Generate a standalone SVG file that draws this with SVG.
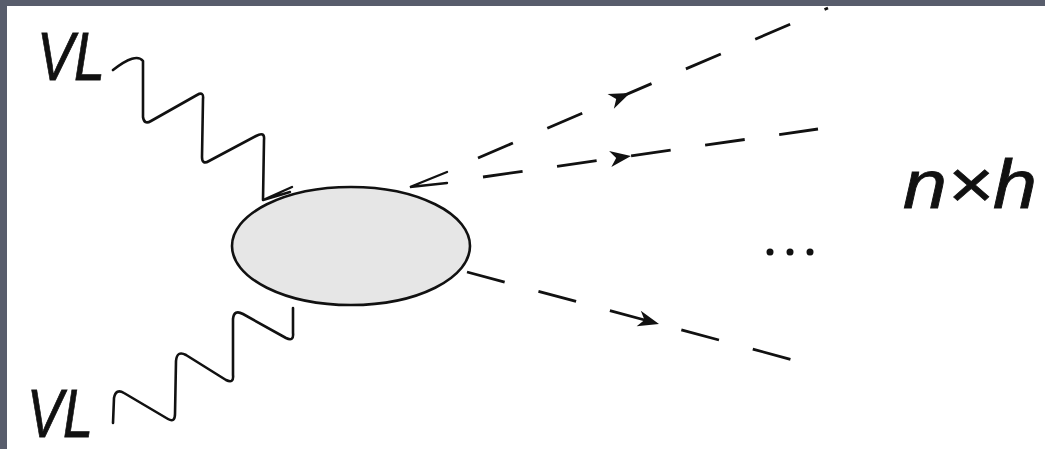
<svg xmlns="http://www.w3.org/2000/svg" xmlns:xlink="http://www.w3.org/1999/xlink" width="1045" height="449" viewBox="0 0 1045 449">
<style>
.lbl{font-family:"Liberation Sans",Arial,sans-serif;font-style:italic;fill:#111;stroke:#111;stroke-width:0.8;font-size:68px}
.wave{fill:none;stroke:#111;stroke-width:2.6;stroke-linejoin:round;stroke-linecap:round}
.dash{fill:none;stroke:#111;stroke-width:2.8;stroke-linecap:butt}
.tip{fill:none;stroke:#111;stroke-width:2.4;stroke-linecap:round}
.ah{fill:#111}
</style>
<defs>
<path id="ah" class="ah" d="M0,0 L-21,-8 L-15,0 L-21,8 Z"/>
</defs>
<rect x="0" y="0" width="1045" height="449" fill="#ffffff"/>
<g id="frame">
<rect x="0" y="0" width="1045" height="6" fill="#585d6c"/>
<rect x="0" y="0" width="7" height="449" fill="#585d6c"/>
</g>
<g id="connectors">
<path id="wave-top" class="wave" d="M113,70 Q136,52 143,61 L143,117 Q144,125 151,121 L197,95 Q204,91 203,99 L202,157 Q202,165 209,161 L256,136 Q265,131 264,140 L263,200"/>
<path id="wave-bottom" class="wave" d="M113,423 L114,398 Q116,388 124,393 L168,419 Q175,423 175,414 L176,361 Q177,350 186,355 L226,380 Q234,384 233,375 L233,319 Q234,309 243,314 L286,338 Q294,342 293,333 L293,308"/>
<path class="tip" d="M292,187 L263,200 L290,192"/>
<path class="tip" d="M447,172 L410,187 L447,183"/>
<path id="line-a" class="dash" d="M478,158 L828,8" stroke-dasharray="38 37.4"/>
<path id="line-b" class="dash" d="M483,177 L818,129" stroke-dasharray="40 34.8"/>
<path id="line-c" class="dash" d="M467,272 L793,360" stroke-dasharray="39 35"/>
<use xlink:href="#ah" transform="translate(630,93) rotate(-23.2)"/>
<use xlink:href="#ah" transform="translate(631,156) rotate(-8.1)"/>
<use xlink:href="#ah" transform="translate(659,324) rotate(15.1)"/>
</g>
<g id="blob">
<ellipse cx="351" cy="246" rx="119" ry="59" fill="#e6e6e6" stroke="#111" stroke-width="2.6"/>
</g>
<g id="label-vl-top"><text class="lbl" x="37" y="80" textLength="68" lengthAdjust="spacingAndGlyphs">VL</text></g>
<g id="label-vl-bottom"><text class="lbl" x="27" y="437" textLength="66" lengthAdjust="spacingAndGlyphs">VL</text></g>
<g id="label-nh"><text class="lbl" x="903" y="208" textLength="134" lengthAdjust="spacingAndGlyphs">n×h</text></g>
<g id="dots">
<circle cx="770" cy="252" r="3.5" fill="#111"/>
<circle cx="790" cy="252" r="3.5" fill="#111"/>
<circle cx="810" cy="252" r="3.5" fill="#111"/>
</g>
</svg>
